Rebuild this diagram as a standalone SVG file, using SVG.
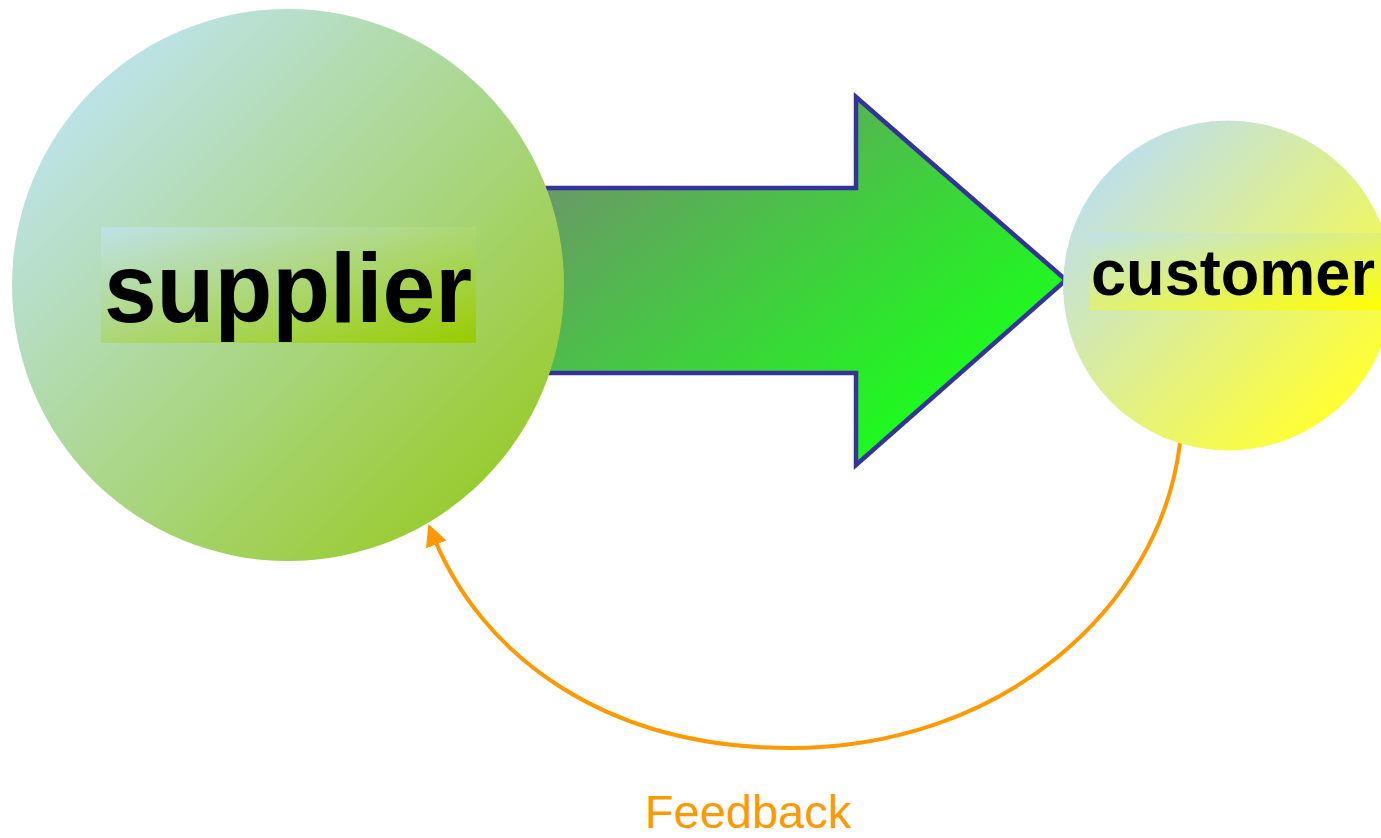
<svg xmlns="http://www.w3.org/2000/svg" width="1381" height="838" viewBox="0 0 1381 838">
  <style>
    .label { font-family: "Liberation Sans", Arial, sans-serif; font-weight: bold; fill: #000; }
    .feedback-text { font-family: "Liberation Sans", Arial, sans-serif; fill: #ff9900; }
    .flow { stroke: #333399; stroke-width: 4.5; stroke-linejoin: miter; }
    .loop { fill: none; stroke: #ff9900; stroke-width: 4; }
  </style>
  <defs>
    <linearGradient id="supplierFill" x1="0.15" y1="0.15" x2="0.85" y2="0.85">
      <stop offset="0" stop-color="#bde2e6"/>
      <stop offset="1" stop-color="#99cc33"/>
    </linearGradient>
    <linearGradient id="supplierBox" x1="0" y1="0" x2="1" y2="1">
      <stop offset="0" stop-color="#bfe2e8"/>
      <stop offset="1" stop-color="#99cc00"/>
    </linearGradient>
    <linearGradient id="customerFill" x1="0.15" y1="0.15" x2="0.85" y2="0.85">
      <stop offset="0" stop-color="#bfe0e6"/>
      <stop offset="1" stop-color="#ffff33"/>
    </linearGradient>
    <linearGradient id="customerBox" x1="0" y1="0" x2="1" y2="1">
      <stop offset="0" stop-color="#bfe2ea"/>
      <stop offset="1" stop-color="#ffff00"/>
    </linearGradient>
    <linearGradient id="flowFill" gradientUnits="userSpaceOnUse" x1="620" y1="130" x2="880" y2="470">
      <stop offset="0" stop-color="#6a9966"/>
      <stop offset="1" stop-color="#1aff1a"/>
    </linearGradient>
    <marker id="loopHead" viewBox="0 0 10 10" refX="8" refY="5" markerWidth="5.5" markerHeight="5.5" orient="auto" markerUnits="strokeWidth">
      <path d="M0,0 L10,5 L0,10 Z" fill="#ff9900"/>
    </marker>
  </defs>

  <!-- connectors: supply flow arrow and feedback loop -->
  <g id="connectors">
    <path class="flow" fill="url(#flowFill)" d="M520,188 L856,188 L856,97 L1066,280 L856,465 L856,373 L520,373 Z"/>
    <path class="loop" marker-end="url(#loopHead)" d="M1180,443 C1160,610 1000,748 790,748 C610,748 480,660 430,528"/>
    <text class="feedback-text" x="748" y="828" font-size="47" text-anchor="middle">Feedback</text>
  </g>

  <g id="supplier">
    <circle cx="288" cy="285" r="276" fill="url(#supplierFill)"/>
    <rect x="101" y="227" width="375" height="116" fill="url(#supplierBox)"/>
    <text class="label" x="288" y="322" font-size="98" text-anchor="middle" textLength="368" lengthAdjust="spacingAndGlyphs">supplier</text>
  </g>

  <g id="customer">
    <circle cx="1228" cy="285.5" r="165" fill="url(#customerFill)"/>
    <rect x="1090" y="233" width="291" height="77" fill="url(#customerBox)"/>
    <text class="label" x="1233" y="295" font-size="64" text-anchor="middle" textLength="284" lengthAdjust="spacingAndGlyphs">customer</text>
  </g>
</svg>
